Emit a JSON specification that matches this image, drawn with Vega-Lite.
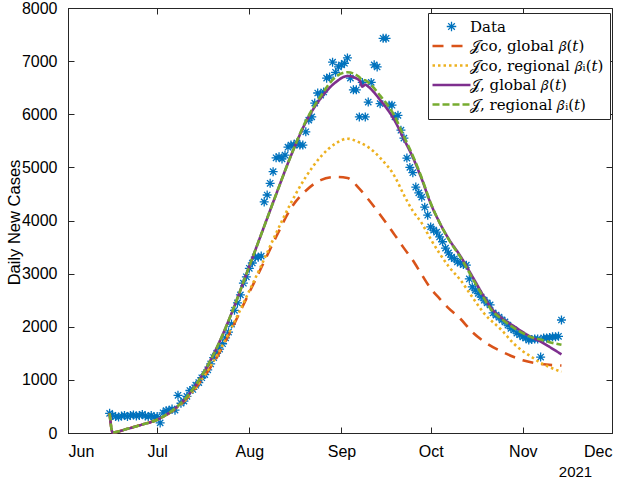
{
  "$schema": "https://vega.github.io/schema/vega-lite/v6.json",
  "width": 544,
  "height": 425,
  "autosize": {"type": "none"},
  "padding": {"left": 68, "top": 8, "right": 15, "bottom": 46},
  "background": "white",
  "config": {
    "font": "Liberation Sans",
    "view": {"stroke": "#262626", "strokeWidth": 1},
    "axis": {
      "grid": false,
      "domainColor": "#262626",
      "domainWidth": 1,
      "tickColor": "#262626",
      "tickWidth": 1,
      "tickSize": -6,
      "labelColor": "#000000",
      "labelFont": "Liberation Sans",
      "labelFontSize": 16,
      "titleFont": "Liberation Sans",
      "titleFontSize": 16.5,
      "titleFontWeight": "normal",
      "titleColor": "#000000"
    }
  },
  "datasets": {
    "cases": [
      {"date": "2021-06-15", "cases": 370}, {"date": "2021-06-16", "cases": 330}, {"date": "2021-06-17", "cases": 310},
      {"date": "2021-06-18", "cases": 300}, {"date": "2021-06-19", "cases": 320}, {"date": "2021-06-20", "cases": 330},
      {"date": "2021-06-21", "cases": 310}, {"date": "2021-06-22", "cases": 330}, {"date": "2021-06-23", "cases": 340},
      {"date": "2021-06-24", "cases": 320}, {"date": "2021-06-25", "cases": 330}, {"date": "2021-06-26", "cases": 350},
      {"date": "2021-06-27", "cases": 320}, {"date": "2021-06-28", "cases": 310}, {"date": "2021-06-29", "cases": 330},
      {"date": "2021-06-30", "cases": 300},
      {"date": "2021-07-01", "cases": 310}, {"date": "2021-07-02", "cases": 190}, {"date": "2021-07-03", "cases": 380},
      {"date": "2021-07-04", "cases": 420}, {"date": "2021-07-05", "cases": 430}, {"date": "2021-07-06", "cases": 450},
      {"date": "2021-07-07", "cases": 430}, {"date": "2021-07-08", "cases": 710}, {"date": "2021-07-09", "cases": 560},
      {"date": "2021-07-10", "cases": 600}, {"date": "2021-07-11", "cases": 690}, {"date": "2021-07-12", "cases": 800},
      {"date": "2021-07-13", "cases": 820}, {"date": "2021-07-14", "cases": 900}, {"date": "2021-07-15", "cases": 950},
      {"date": "2021-07-16", "cases": 1040}, {"date": "2021-07-17", "cases": 1100}, {"date": "2021-07-18", "cases": 1190},
      {"date": "2021-07-19", "cases": 1300}, {"date": "2021-07-20", "cases": 1420}, {"date": "2021-07-21", "cases": 1500},
      {"date": "2021-07-22", "cases": 1580}, {"date": "2021-07-23", "cases": 1680}, {"date": "2021-07-24", "cases": 1790},
      {"date": "2021-07-25", "cases": 1900}, {"date": "2021-07-26", "cases": 2050}, {"date": "2021-07-27", "cases": 2310},
      {"date": "2021-07-28", "cases": 2450}, {"date": "2021-07-29", "cases": 2600}, {"date": "2021-07-30", "cases": 2820},
      {"date": "2021-07-31", "cases": 2940},
      {"date": "2021-08-01", "cases": 3100}, {"date": "2021-08-02", "cases": 3200}, {"date": "2021-08-03", "cases": 3310},
      {"date": "2021-08-04", "cases": 3310}, {"date": "2021-08-05", "cases": 3330}, {"date": "2021-08-06", "cases": 4350},
      {"date": "2021-08-07", "cases": 4480}, {"date": "2021-08-08", "cases": 4700}, {"date": "2021-08-09", "cases": 4920},
      {"date": "2021-08-10", "cases": 5180}, {"date": "2021-08-11", "cases": 5200}, {"date": "2021-08-12", "cases": 5160},
      {"date": "2021-08-13", "cases": 5230}, {"date": "2021-08-14", "cases": 5380}, {"date": "2021-08-15", "cases": 5420},
      {"date": "2021-08-16", "cases": 5420}, {"date": "2021-08-17", "cases": 5460}, {"date": "2021-08-18", "cases": 5420},
      {"date": "2021-08-19", "cases": 5420}, {"date": "2021-08-20", "cases": 5670}, {"date": "2021-08-21", "cases": 5890},
      {"date": "2021-08-22", "cases": 5950}, {"date": "2021-08-23", "cases": 6210}, {"date": "2021-08-24", "cases": 6400},
      {"date": "2021-08-25", "cases": 6360}, {"date": "2021-08-26", "cases": 6420}, {"date": "2021-08-27", "cases": 6680},
      {"date": "2021-08-28", "cases": 6700}, {"date": "2021-08-29", "cases": 6980}, {"date": "2021-08-30", "cases": 6790},
      {"date": "2021-08-31", "cases": 6890},
      {"date": "2021-09-01", "cases": 6930}, {"date": "2021-09-02", "cases": 6960}, {"date": "2021-09-03", "cases": 7060},
      {"date": "2021-09-04", "cases": 6680}, {"date": "2021-09-05", "cases": 6460}, {"date": "2021-09-06", "cases": 6460},
      {"date": "2021-09-07", "cases": 5950}, {"date": "2021-09-08", "cases": 6600}, {"date": "2021-09-09", "cases": 5950},
      {"date": "2021-09-10", "cases": 6230}, {"date": "2021-09-11", "cases": 6600}, {"date": "2021-09-12", "cases": 6930},
      {"date": "2021-09-13", "cases": 6890}, {"date": "2021-09-14", "cases": 6200}, {"date": "2021-09-15", "cases": 7430},
      {"date": "2021-09-16", "cases": 7430}, {"date": "2021-09-17", "cases": 6170}, {"date": "2021-09-18", "cases": 6170},
      {"date": "2021-09-19", "cases": 5950}, {"date": "2021-09-20", "cases": 5980}, {"date": "2021-09-21", "cases": 5700},
      {"date": "2021-09-22", "cases": 5550}, {"date": "2021-09-23", "cases": 5175}, {"date": "2021-09-24", "cases": 5000},
      {"date": "2021-09-25", "cases": 4900}, {"date": "2021-09-26", "cases": 4630}, {"date": "2021-09-27", "cases": 4520},
      {"date": "2021-09-28", "cases": 4440}, {"date": "2021-09-29", "cases": 4250}, {"date": "2021-09-30", "cases": 4100},
      {"date": "2021-10-01", "cases": 3880}, {"date": "2021-10-02", "cases": 3820}, {"date": "2021-10-03", "cases": 3780},
      {"date": "2021-10-04", "cases": 3690}, {"date": "2021-10-05", "cases": 3600}, {"date": "2021-10-06", "cases": 3480},
      {"date": "2021-10-07", "cases": 3390}, {"date": "2021-10-08", "cases": 3310}, {"date": "2021-10-09", "cases": 3280},
      {"date": "2021-10-10", "cases": 3220}, {"date": "2021-10-11", "cases": 3200}, {"date": "2021-10-12", "cases": 3170},
      {"date": "2021-10-13", "cases": 3160}, {"date": "2021-10-14", "cases": 2900}, {"date": "2021-10-15", "cases": 2750},
      {"date": "2021-10-16", "cases": 2690}, {"date": "2021-10-17", "cases": 2630}, {"date": "2021-10-18", "cases": 2560},
      {"date": "2021-10-19", "cases": 2500}, {"date": "2021-10-20", "cases": 2450}, {"date": "2021-10-21", "cases": 2410},
      {"date": "2021-10-22", "cases": 2260}, {"date": "2021-10-23", "cases": 2220}, {"date": "2021-10-24", "cases": 2180},
      {"date": "2021-10-25", "cases": 2130}, {"date": "2021-10-26", "cases": 2090}, {"date": "2021-10-27", "cases": 2030},
      {"date": "2021-10-28", "cases": 1970}, {"date": "2021-10-29", "cases": 1940}, {"date": "2021-10-30", "cases": 1880},
      {"date": "2021-10-31", "cases": 1850},
      {"date": "2021-11-01", "cases": 1810}, {"date": "2021-11-02", "cases": 1790}, {"date": "2021-11-03", "cases": 1750},
      {"date": "2021-11-04", "cases": 1760}, {"date": "2021-11-05", "cases": 1770}, {"date": "2021-11-06", "cases": 1770},
      {"date": "2021-11-07", "cases": 1430}, {"date": "2021-11-08", "cases": 1790}, {"date": "2021-11-09", "cases": 1790},
      {"date": "2021-11-10", "cases": 1800}, {"date": "2021-11-11", "cases": 1810}, {"date": "2021-11-12", "cases": 1810},
      {"date": "2021-11-13", "cases": 1820}, {"date": "2021-11-14", "cases": 2127}
    ],
    "models": [
      {"series": "𝒥co, global 𝛽(𝑡)", "date": "2021-06-15", "value": 370},
      {"series": "𝒥co, global 𝛽(𝑡)", "date": "2021-06-16", "value": 10},
      {"series": "𝒥co, global 𝛽(𝑡)", "date": "2021-06-21", "value": 80},
      {"series": "𝒥co, global 𝛽(𝑡)", "date": "2021-06-26", "value": 160},
      {"series": "𝒥co, global 𝛽(𝑡)", "date": "2021-07-01", "value": 250},
      {"series": "𝒥co, global 𝛽(𝑡)", "date": "2021-07-06", "value": 410},
      {"series": "𝒥co, global 𝛽(𝑡)", "date": "2021-07-11", "value": 650},
      {"series": "𝒥co, global 𝛽(𝑡)", "date": "2021-07-16", "value": 1000},
      {"series": "𝒥co, global 𝛽(𝑡)", "date": "2021-07-21", "value": 1420},
      {"series": "𝒥co, global 𝛽(𝑡)", "date": "2021-07-26", "value": 1950},
      {"series": "𝒥co, global 𝛽(𝑡)", "date": "2021-07-31", "value": 2530},
      {"series": "𝒥co, global 𝛽(𝑡)", "date": "2021-08-05", "value": 3110},
      {"series": "𝒥co, global 𝛽(𝑡)", "date": "2021-08-10", "value": 3690},
      {"series": "𝒥co, global 𝛽(𝑡)", "date": "2021-08-15", "value": 4230},
      {"series": "𝒥co, global 𝛽(𝑡)", "date": "2021-08-20", "value": 4560},
      {"series": "𝒥co, global 𝛽(𝑡)", "date": "2021-08-25", "value": 4760},
      {"series": "𝒥co, global 𝛽(𝑡)", "date": "2021-08-30", "value": 4820},
      {"series": "𝒥co, global 𝛽(𝑡)", "date": "2021-09-03", "value": 4800},
      {"series": "𝒥co, global 𝛽(𝑡)", "date": "2021-09-07", "value": 4600},
      {"series": "𝒥co, global 𝛽(𝑡)", "date": "2021-09-10", "value": 4400},
      {"series": "𝒥co, global 𝛽(𝑡)", "date": "2021-09-14", "value": 4110},
      {"series": "𝒥co, global 𝛽(𝑡)", "date": "2021-09-19", "value": 3720},
      {"series": "𝒥co, global 𝛽(𝑡)", "date": "2021-09-22", "value": 3480},
      {"series": "𝒥co, global 𝛽(𝑡)", "date": "2021-09-25", "value": 3250},
      {"series": "𝒥co, global 𝛽(𝑡)", "date": "2021-09-28", "value": 2980},
      {"series": "𝒥co, global 𝛽(𝑡)", "date": "2021-10-01", "value": 2720},
      {"series": "𝒥co, global 𝛽(𝑡)", "date": "2021-10-04", "value": 2530},
      {"series": "𝒥co, global 𝛽(𝑡)", "date": "2021-10-07", "value": 2350},
      {"series": "𝒥co, global 𝛽(𝑡)", "date": "2021-10-11", "value": 2150},
      {"series": "𝒥co, global 𝛽(𝑡)", "date": "2021-10-15", "value": 1900},
      {"series": "𝒥co, global 𝛽(𝑡)", "date": "2021-10-19", "value": 1720},
      {"series": "𝒥co, global 𝛽(𝑡)", "date": "2021-10-25", "value": 1530},
      {"series": "𝒥co, global 𝛽(𝑡)", "date": "2021-10-29", "value": 1430},
      {"series": "𝒥co, global 𝛽(𝑡)", "date": "2021-11-01", "value": 1370},
      {"series": "𝒥co, global 𝛽(𝑡)", "date": "2021-11-07", "value": 1300},
      {"series": "𝒥co, global 𝛽(𝑡)", "date": "2021-11-14", "value": 1270},

      {"series": "𝒥co, regional 𝛽ᵢ(𝑡)", "date": "2021-06-15", "value": 370},
      {"series": "𝒥co, regional 𝛽ᵢ(𝑡)", "date": "2021-06-16", "value": 10},
      {"series": "𝒥co, regional 𝛽ᵢ(𝑡)", "date": "2021-06-21", "value": 80},
      {"series": "𝒥co, regional 𝛽ᵢ(𝑡)", "date": "2021-06-26", "value": 160},
      {"series": "𝒥co, regional 𝛽ᵢ(𝑡)", "date": "2021-07-01", "value": 250},
      {"series": "𝒥co, regional 𝛽ᵢ(𝑡)", "date": "2021-07-06", "value": 410},
      {"series": "𝒥co, regional 𝛽ᵢ(𝑡)", "date": "2021-07-11", "value": 650},
      {"series": "𝒥co, regional 𝛽ᵢ(𝑡)", "date": "2021-07-16", "value": 1010},
      {"series": "𝒥co, regional 𝛽ᵢ(𝑡)", "date": "2021-07-21", "value": 1450},
      {"series": "𝒥co, regional 𝛽ᵢ(𝑡)", "date": "2021-07-26", "value": 1980},
      {"series": "𝒥co, regional 𝛽ᵢ(𝑡)", "date": "2021-07-31", "value": 2560},
      {"series": "𝒥co, regional 𝛽ᵢ(𝑡)", "date": "2021-08-05", "value": 3150},
      {"series": "𝒥co, regional 𝛽ᵢ(𝑡)", "date": "2021-08-10", "value": 3760},
      {"series": "𝒥co, regional 𝛽ᵢ(𝑡)", "date": "2021-08-15", "value": 4330},
      {"series": "𝒥co, regional 𝛽ᵢ(𝑡)", "date": "2021-08-20", "value": 4820},
      {"series": "𝒥co, regional 𝛽ᵢ(𝑡)", "date": "2021-08-25", "value": 5200},
      {"series": "𝒥co, regional 𝛽ᵢ(𝑡)", "date": "2021-08-30", "value": 5450},
      {"series": "𝒥co, regional 𝛽ᵢ(𝑡)", "date": "2021-09-03", "value": 5540},
      {"series": "𝒥co, regional 𝛽ᵢ(𝑡)", "date": "2021-09-07", "value": 5470},
      {"series": "𝒥co, regional 𝛽ᵢ(𝑡)", "date": "2021-09-10", "value": 5380},
      {"series": "𝒥co, regional 𝛽ᵢ(𝑡)", "date": "2021-09-14", "value": 5180},
      {"series": "𝒥co, regional 𝛽ᵢ(𝑡)", "date": "2021-09-19", "value": 4820},
      {"series": "𝒥co, regional 𝛽ᵢ(𝑡)", "date": "2021-09-22", "value": 4480},
      {"series": "𝒥co, regional 𝛽ᵢ(𝑡)", "date": "2021-09-25", "value": 4180},
      {"series": "𝒥co, regional 𝛽ᵢ(𝑡)", "date": "2021-09-28", "value": 3950},
      {"series": "𝒥co, regional 𝛽ᵢ(𝑡)", "date": "2021-10-01", "value": 3650},
      {"series": "𝒥co, regional 𝛽ᵢ(𝑡)", "date": "2021-10-04", "value": 3380},
      {"series": "𝒥co, regional 𝛽ᵢ(𝑡)", "date": "2021-10-07", "value": 3140},
      {"series": "𝒥co, regional 𝛽ᵢ(𝑡)", "date": "2021-10-11", "value": 2880},
      {"series": "𝒥co, regional 𝛽ᵢ(𝑡)", "date": "2021-10-15", "value": 2560},
      {"series": "𝒥co, regional 𝛽ᵢ(𝑡)", "date": "2021-10-19", "value": 2250},
      {"series": "𝒥co, regional 𝛽ᵢ(𝑡)", "date": "2021-10-25", "value": 1930},
      {"series": "𝒥co, regional 𝛽ᵢ(𝑡)", "date": "2021-10-29", "value": 1680},
      {"series": "𝒥co, regional 𝛽ᵢ(𝑡)", "date": "2021-11-01", "value": 1540},
      {"series": "𝒥co, regional 𝛽ᵢ(𝑡)", "date": "2021-11-04", "value": 1430},
      {"series": "𝒥co, regional 𝛽ᵢ(𝑡)", "date": "2021-11-07", "value": 1320},
      {"series": "𝒥co, regional 𝛽ᵢ(𝑡)", "date": "2021-11-10", "value": 1240},
      {"series": "𝒥co, regional 𝛽ᵢ(𝑡)", "date": "2021-11-14", "value": 1150},

      {"series": "𝒥, global 𝛽(𝑡)", "date": "2021-06-15", "value": 370},
      {"series": "𝒥, global 𝛽(𝑡)", "date": "2021-06-16", "value": 10},
      {"series": "𝒥, global 𝛽(𝑡)", "date": "2021-06-21", "value": 80},
      {"series": "𝒥, global 𝛽(𝑡)", "date": "2021-06-26", "value": 160},
      {"series": "𝒥, global 𝛽(𝑡)", "date": "2021-07-01", "value": 250},
      {"series": "𝒥, global 𝛽(𝑡)", "date": "2021-07-06", "value": 420},
      {"series": "𝒥, global 𝛽(𝑡)", "date": "2021-07-11", "value": 680},
      {"series": "𝒥, global 𝛽(𝑡)", "date": "2021-07-16", "value": 1080},
      {"series": "𝒥, global 𝛽(𝑡)", "date": "2021-07-21", "value": 1600},
      {"series": "𝒥, global 𝛽(𝑡)", "date": "2021-07-26", "value": 2250},
      {"series": "𝒥, global 𝛽(𝑡)", "date": "2021-07-31", "value": 2990},
      {"series": "𝒥, global 𝛽(𝑡)", "date": "2021-08-05", "value": 3740},
      {"series": "𝒥, global 𝛽(𝑡)", "date": "2021-08-10", "value": 4490},
      {"series": "𝒥, global 𝛽(𝑡)", "date": "2021-08-15", "value": 5220},
      {"series": "𝒥, global 𝛽(𝑡)", "date": "2021-08-20", "value": 5850},
      {"series": "𝒥, global 𝛽(𝑡)", "date": "2021-08-25", "value": 6300},
      {"series": "𝒥, global 𝛽(𝑡)", "date": "2021-08-30", "value": 6600},
      {"series": "𝒥, global 𝛽(𝑡)", "date": "2021-09-03", "value": 6720},
      {"series": "𝒥, global 𝛽(𝑡)", "date": "2021-09-07", "value": 6640},
      {"series": "𝒥, global 𝛽(𝑡)", "date": "2021-09-08", "value": 6520},
      {"series": "𝒥, global 𝛽(𝑡)", "date": "2021-09-09", "value": 6560},
      {"series": "𝒥, global 𝛽(𝑡)", "date": "2021-09-10", "value": 6520},
      {"series": "𝒥, global 𝛽(𝑡)", "date": "2021-09-14", "value": 6270},
      {"series": "𝒥, global 𝛽(𝑡)", "date": "2021-09-19", "value": 5870},
      {"series": "𝒥, global 𝛽(𝑡)", "date": "2021-09-22", "value": 5530},
      {"series": "𝒥, global 𝛽(𝑡)", "date": "2021-09-25", "value": 5190},
      {"series": "𝒥, global 𝛽(𝑡)", "date": "2021-09-28", "value": 4780},
      {"series": "𝒥, global 𝛽(𝑡)", "date": "2021-10-01", "value": 4320},
      {"series": "𝒥, global 𝛽(𝑡)", "date": "2021-10-04", "value": 3960},
      {"series": "𝒥, global 𝛽(𝑡)", "date": "2021-10-07", "value": 3660},
      {"series": "𝒥, global 𝛽(𝑡)", "date": "2021-10-11", "value": 3330},
      {"series": "𝒥, global 𝛽(𝑡)", "date": "2021-10-15", "value": 2950},
      {"series": "𝒥, global 𝛽(𝑡)", "date": "2021-10-19", "value": 2560},
      {"series": "𝒥, global 𝛽(𝑡)", "date": "2021-10-21", "value": 2380},
      {"series": "𝒥, global 𝛽(𝑡)", "date": "2021-10-25", "value": 2160},
      {"series": "𝒥, global 𝛽(𝑡)", "date": "2021-10-29", "value": 2010},
      {"series": "𝒥, global 𝛽(𝑡)", "date": "2021-11-01", "value": 1900},
      {"series": "𝒥, global 𝛽(𝑡)", "date": "2021-11-04", "value": 1800},
      {"series": "𝒥, global 𝛽(𝑡)", "date": "2021-11-07", "value": 1720},
      {"series": "𝒥, global 𝛽(𝑡)", "date": "2021-11-10", "value": 1620},
      {"series": "𝒥, global 𝛽(𝑡)", "date": "2021-11-14", "value": 1480},

      {"series": "𝒥, regional 𝛽ᵢ(𝑡)", "date": "2021-06-15", "value": 370},
      {"series": "𝒥, regional 𝛽ᵢ(𝑡)", "date": "2021-06-16", "value": 10},
      {"series": "𝒥, regional 𝛽ᵢ(𝑡)", "date": "2021-06-21", "value": 80},
      {"series": "𝒥, regional 𝛽ᵢ(𝑡)", "date": "2021-06-26", "value": 160},
      {"series": "𝒥, regional 𝛽ᵢ(𝑡)", "date": "2021-07-01", "value": 250},
      {"series": "𝒥, regional 𝛽ᵢ(𝑡)", "date": "2021-07-06", "value": 420},
      {"series": "𝒥, regional 𝛽ᵢ(𝑡)", "date": "2021-07-11", "value": 680},
      {"series": "𝒥, regional 𝛽ᵢ(𝑡)", "date": "2021-07-16", "value": 1080},
      {"series": "𝒥, regional 𝛽ᵢ(𝑡)", "date": "2021-07-21", "value": 1600},
      {"series": "𝒥, regional 𝛽ᵢ(𝑡)", "date": "2021-07-26", "value": 2250},
      {"series": "𝒥, regional 𝛽ᵢ(𝑡)", "date": "2021-07-31", "value": 2990},
      {"series": "𝒥, regional 𝛽ᵢ(𝑡)", "date": "2021-08-05", "value": 3740},
      {"series": "𝒥, regional 𝛽ᵢ(𝑡)", "date": "2021-08-10", "value": 4490},
      {"series": "𝒥, regional 𝛽ᵢ(𝑡)", "date": "2021-08-15", "value": 5220},
      {"series": "𝒥, regional 𝛽ᵢ(𝑡)", "date": "2021-08-20", "value": 5870},
      {"series": "𝒥, regional 𝛽ᵢ(𝑡)", "date": "2021-08-25", "value": 6340},
      {"series": "𝒥, regional 𝛽ᵢ(𝑡)", "date": "2021-08-30", "value": 6700},
      {"series": "𝒥, regional 𝛽ᵢ(𝑡)", "date": "2021-09-03", "value": 6790},
      {"series": "𝒥, regional 𝛽ᵢ(𝑡)", "date": "2021-09-07", "value": 6700},
      {"series": "𝒥, regional 𝛽ᵢ(𝑡)", "date": "2021-09-08", "value": 6640},
      {"series": "𝒥, regional 𝛽ᵢ(𝑡)", "date": "2021-09-09", "value": 6640},
      {"series": "𝒥, regional 𝛽ᵢ(𝑡)", "date": "2021-09-10", "value": 6600},
      {"series": "𝒥, regional 𝛽ᵢ(𝑡)", "date": "2021-09-14", "value": 6350},
      {"series": "𝒥, regional 𝛽ᵢ(𝑡)", "date": "2021-09-19", "value": 5950},
      {"series": "𝒥, regional 𝛽ᵢ(𝑡)", "date": "2021-09-22", "value": 5580},
      {"series": "𝒥, regional 𝛽ᵢ(𝑡)", "date": "2021-09-25", "value": 5220},
      {"series": "𝒥, regional 𝛽ᵢ(𝑡)", "date": "2021-09-28", "value": 4800},
      {"series": "𝒥, regional 𝛽ᵢ(𝑡)", "date": "2021-10-01", "value": 4330},
      {"series": "𝒥, regional 𝛽ᵢ(𝑡)", "date": "2021-10-04", "value": 3960},
      {"series": "𝒥, regional 𝛽ᵢ(𝑡)", "date": "2021-10-07", "value": 3650},
      {"series": "𝒥, regional 𝛽ᵢ(𝑡)", "date": "2021-10-11", "value": 3310},
      {"series": "𝒥, regional 𝛽ᵢ(𝑡)", "date": "2021-10-15", "value": 2920},
      {"series": "𝒥, regional 𝛽ᵢ(𝑡)", "date": "2021-10-19", "value": 2530},
      {"series": "𝒥, regional 𝛽ᵢ(𝑡)", "date": "2021-10-21", "value": 2350},
      {"series": "𝒥, regional 𝛽ᵢ(𝑡)", "date": "2021-10-25", "value": 2140},
      {"series": "𝒥, regional 𝛽ᵢ(𝑡)", "date": "2021-10-29", "value": 1980},
      {"series": "𝒥, regional 𝛽ᵢ(𝑡)", "date": "2021-11-01", "value": 1880},
      {"series": "𝒥, regional 𝛽ᵢ(𝑡)", "date": "2021-11-04", "value": 1800},
      {"series": "𝒥, regional 𝛽ᵢ(𝑡)", "date": "2021-11-07", "value": 1760},
      {"series": "𝒥, regional 𝛽ᵢ(𝑡)", "date": "2021-11-10", "value": 1710},
      {"series": "𝒥, regional 𝛽ᵢ(𝑡)", "date": "2021-11-14", "value": 1660}
    ]
  },
  "layer": [
    {
      "data": {"name": "cases"},
      "mark": {
        "type": "point",
        "shape": "M0,-1L0,1M-1,0L1,0M-0.7,-0.7L0.7,0.7M-0.7,0.7L0.7,-0.7",
        "filled": false,
        "stroke": "#0072BD",
        "strokeWidth": 1.3,
        "size": 81,
        "opacity": 1
      },
      "encoding": {
        "x": {
          "field": "date",
          "type": "temporal",
          "scale": {
            "type": "utc",
            "nice": false,
            "domain": [
              {"year": 2021, "month": 6, "date": 1, "utc": true},
              {"year": 2021, "month": 12, "date": 1, "utc": true}
            ]
          },
          "axis": {
            "title": "2021",
            "titleFontSize": 15,
            "titleX": 507,
            "titleY": 43,
            "titleAlign": "center",
            "titleBaseline": "alphabetic",
            "values": [
              {"year": 2021, "month": 6, "date": 1, "utc": true},
              {"year": 2021, "month": 7, "date": 1, "utc": true},
              {"year": 2021, "month": 8, "date": 1, "utc": true},
              {"year": 2021, "month": 9, "date": 1, "utc": true},
              {"year": 2021, "month": 10, "date": 1, "utc": true},
              {"year": 2021, "month": 11, "date": 1, "utc": true},
              {"year": 2021, "month": 12, "date": 1, "utc": true}
            ],
            "labelExpr": "utcFormat(datum.value, '%b')",
            "labelPadding": 16
          }
        },
        "y": {
          "field": "cases",
          "type": "quantitative",
          "scale": {"domain": [0, 8000], "nice": false},
          "axis": {
            "title": "Daily New Cases",
            "values": [0, 1000, 2000, 3000, 4000, 5000, 6000, 7000, 8000],
            "format": "d",
            "labelPadding": 17,
            "titleX": -54,
            "titleY": 214,
            "titleAlign": "center",
            "titleBaseline": "middle"
          }
        }
      }
    },
    {
      "data": {"name": "models"},
      "mark": {"type": "line", "interpolate": "monotone", "strokeWidth": 2.6},
      "encoding": {
        "x": {
          "field": "date",
          "type": "temporal",
          "axis": {
            "orient": "top",
            "labels": false,
            "title": null,
            "domain": false,
            "values": [
              {"year": 2021, "month": 6, "date": 1, "utc": true},
              {"year": 2021, "month": 7, "date": 1, "utc": true},
              {"year": 2021, "month": 8, "date": 1, "utc": true},
              {"year": 2021, "month": 9, "date": 1, "utc": true},
              {"year": 2021, "month": 10, "date": 1, "utc": true},
              {"year": 2021, "month": 11, "date": 1, "utc": true},
              {"year": 2021, "month": 12, "date": 1, "utc": true}
            ]
          }
        },
        "y": {
          "field": "value",
          "type": "quantitative",
          "axis": {
            "orient": "right",
            "labels": false,
            "title": null,
            "domain": false,
            "values": [0, 1000, 2000, 3000, 4000, 5000, 6000, 7000, 8000]
          }
        },
        "color": {
          "field": "series",
          "type": "nominal",
          "sort": null,
          "scale": {
            "domain": ["Data", "𝒥co, global 𝛽(𝑡)", "𝒥co, regional 𝛽ᵢ(𝑡)", "𝒥, global 𝛽(𝑡)", "𝒥, regional 𝛽ᵢ(𝑡)"],
            "range": ["#0072BD", "#D95319", "#EDB120", "#7E2F8E", "#77AC30"]
          },
          "legend": {
            "title": null,
            "orient": "none",
            "legendX": 360,
            "legendY": 5,
            "fillColor": "white",
            "strokeColor": "#262626",
            "padding": 6,
            "labelFont": "DejaVu Serif",
            "labelFontSize": 15,
            "labelColor": "#000000",
            "symbolSize": 361,
            "symbolStrokeWidth": 2.5,
            "symbolOffset": 10,
            "labelOffset": 11,
            "rowPadding": 3.5,
            "encode": {
              "symbols": {
                "update": {
                  "shape": {"signal": "datum.value === 'Data' ? 'M0,-0.5L0,0.5M-0.5,0L0.5,0M-0.35,-0.35L0.35,0.35M-0.35,0.35L0.35,-0.35' : 'M-2,0L2,0'"},
                  "strokeWidth": {"signal": "datum.value === 'Data' ? 1.3 : 2.5"}
                }
              }
            }
          }
        },
        "strokeDash": {
          "field": "series",
          "type": "nominal",
          "sort": null,
          "scale": {
            "domain": ["Data", "𝒥co, global 𝛽(𝑡)", "𝒥co, regional 𝛽ᵢ(𝑡)", "𝒥, global 𝛽(𝑡)", "𝒥, regional 𝛽ᵢ(𝑡)"],
            "range": [[1, 0], [11, 8], [2.5, 3], [1, 0], [7, 3]]
          },
          "legend": {
            "title": null,
            "orient": "none",
            "legendX": 360,
            "legendY": 5,
            "fillColor": "white",
            "strokeColor": "#262626",
            "padding": 6,
            "labelFont": "DejaVu Serif",
            "labelFontSize": 15,
            "labelColor": "#000000",
            "symbolSize": 361,
            "symbolStrokeWidth": 2.5,
            "symbolOffset": 10,
            "labelOffset": 11,
            "rowPadding": 3.5,
            "encode": {
              "symbols": {
                "update": {
                  "shape": {"signal": "datum.value === 'Data' ? 'M0,-0.5L0,0.5M-0.5,0L0.5,0M-0.35,-0.35L0.35,0.35M-0.35,0.35L0.35,-0.35' : 'M-2,0L2,0'"},
                  "strokeWidth": {"signal": "datum.value === 'Data' ? 1.3 : 2.5"}
                }
              }
            }
          }
        }
      }
    }
  ],
  "resolve": {"axis": {"x": "independent", "y": "independent"}}
}
